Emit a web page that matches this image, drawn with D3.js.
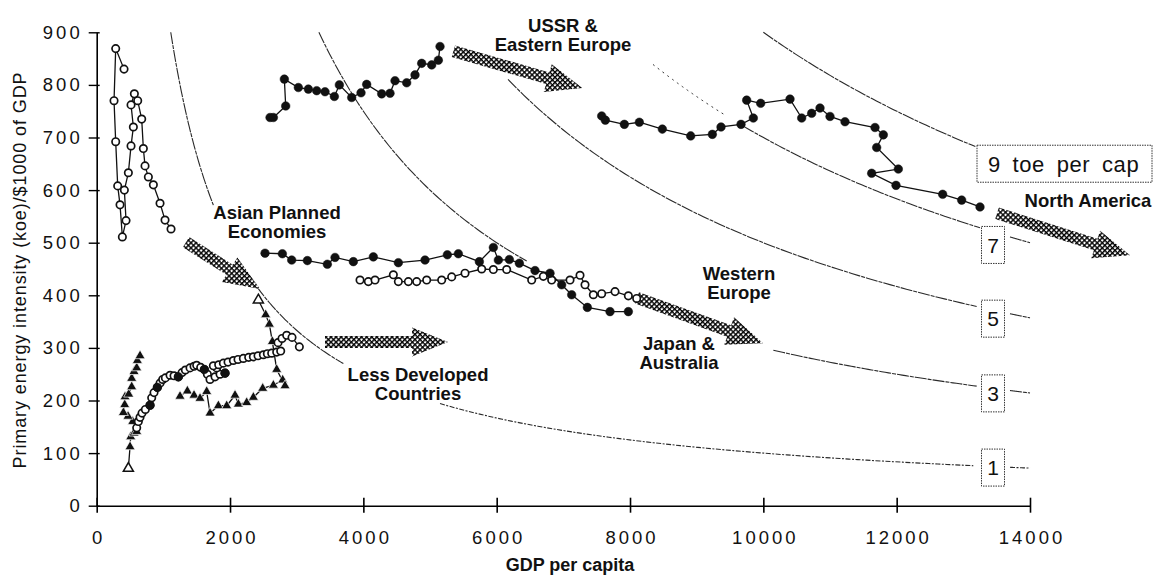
<!DOCTYPE html>
<html>
<head>
<meta charset="utf-8">
<script src="https://cdn.jsdelivr.net/npm/d3@7"></script>
<style>
  body { margin: 0; background: #fff; }
  svg text { font-family: "Liberation Sans", Arial, Helvetica, sans-serif; fill: #111; }
</style>
</head>
<body>
<svg id="svg" width="1154" height="576"></svg>
<script>
// tick values
const xTicks = [0, 2000, 4000, 6000, 8000, 10000, 12000, 14000];
const yTicks = [0, 100, 200, 300, 400, 500, 600, 700, 800, 900];

// iso lines of energy per capita (toe per cap) and the GDP ranges where they are drawn
const isoLevels = [1, 3, 5, 7, 9];
const isoLabels = ["1", "3", "5", "7", "9 toe per cap"];
const isoSegments = [
  [[1111, 1750], [2400, 3700], [5150, 13150], [13700, 14000]],
  [[3333, 6450], [10150, 13200], [13700, 14000]],
  [[6170, 13200], [13700, 14000]],
  [[9700, 13250], [13700, 14000]],
  [[10000, 13180]]
];
const isoFaint = [[7, 8345, 9450]];

// series: [GDP per capita, koe per $1000]
const asianPlanned = [[410,830],[285,869],[260,770],[285,692],[315,608],[350,572],[385,511],[440,542],[415,600],[475,633],[515,684],[550,720],[515,762],[565,783],[615,770],[675,735],[700,679],[725,646],[775,625],[850,610],[950,575],[1025,543],[1115,526]];
const ldcCircles = [[600,148],[625,160],[650,168],[680,176],[730,183],[800,191],[825,205],[860,215],[910,225],[950,233],[990,240],[1030,243],[1100,248],[1160,247],[1225,245],[1280,253],[1330,258],[1400,262],[1460,265],[1500,267],[1560,263],[1615,259],[1660,250],[1700,240],[1775,245],[1850,250],[1925,252],[1800,262],[1750,266],[1830,268],[1900,271],[1970,273],[2050,276],[2120,278],[2200,280],[2280,282],[2350,283],[2420,285],[2500,287],[2560,289],[2625,290],[2700,292],[2760,294],[2720,310],[2780,318],[2850,324],[2930,320],[3040,302]];
const ldcSolid = [[800,191],[910,225],[1225,245],[1615,259],[1925,252]];
const ldcTrianglesA = [[475,71],[500,112],[510,131],[560,138],[600,141],[540,160],[470,170],[400,177],[420,192],[425,207],[480,212],[525,226],[525,242],[560,255],[600,262],[610,276],[650,285]];
const ldcTrianglesB = [[1250,208],[1360,218],[1460,210],[1550,204],[1650,217],[1700,176],[1825,190],[1950,190],[2075,210],[2125,193],[2250,196],[2350,206],[2490,223],[2650,229],[2790,239],[2825,228],[2700,259],[2635,312],[2590,345],[2535,363],[2425,391]];
const westernEurope = [[2525,480],[2785,479],[2925,467],[3160,466],[3460,459],[3575,472],[3850,464],[4150,473],[4525,462],[4925,467],[5260,477],[5425,479],[5740,464],[5950,491],[6025,467],[6190,468],[6340,461],[6575,447],[6800,442],[6975,420],[7125,401],[7360,377],[7700,369],[7975,369]];
const japanAustralia = [[3950,429],[4075,426],[4175,429],[4450,439],[4525,426],[4675,426],[4800,426],[4950,429],[5175,429],[5325,435],[5525,442],[5775,450],[5950,449],[6150,449],[6525,429],[6700,436],[6825,429],[7100,429],[7250,438],[7325,420],[7450,401],[7575,403],[7775,407],[7975,399],[8100,394]];
const ussr = [[2600,738],[2650,738],[2835,760],[2815,811],[3025,795],[3175,792],[3300,789],[3425,787],[3565,778],[3640,800],[3825,776],[3965,785],[4050,801],[4275,783],[4400,784],[4475,808],[4650,804],[4775,819],[4875,841],[5025,838],[5125,847],[5150,873]];
const northAmerica = [[7575,741],[7630,733],[7915,725],[8140,729],[8485,716],[8910,703],[9235,706],[9365,720],[9665,725],[9850,737],[9750,771],[9960,765],[10400,773],[10575,737],[10725,746],[10850,756],[11000,740],[11225,730],[11675,719],[11800,705],[11700,681],[12025,640],[11625,632],[11990,609],[12690,592],[12975,581],[13250,568]];

// region names
const regionNames = [["Asian Planned", "Economies"], ["USSR &", "Eastern Europe"], ["North America"], ["Western", "Europe"], ["Japan &", "Australia"], ["Less Developed", "Countries"]];

const svg = d3.select("#svg");
const x = d3.scaleLinear().domain([0, 14000]).range([96.7, 1030]);
const y = d3.scaleLinear().domain([0, 900]).range([505.7, 32.3]);

// hatch pattern for the trend arrows
const defs = svg.append("defs");
defs.append("pattern")
  .attr("id", "hatch")
  .attr("patternUnits", "userSpaceOnUse")
  .attr("width", 3.6)
  .attr("height", 3.6)
  .attr("patternTransform", "rotate(45)")
  .append("path")
  .attr("d", "M0,0.7H3.6M0.7,0V3.6")
  .attr("stroke", "#000")
  .attr("stroke-width", 1.5);

// axes
const xAxis = svg.append("g")
  .attr("transform", `translate(0,${y(0)})`)
  .call(d3.axisBottom(x).tickValues(xTicks).tickSize(7).tickSizeOuter(0).tickPadding(18).tickFormat(d3.format("d")));
xAxis.selectAll(".tick line").attr("y1", -8).attr("stroke-width", 1.6);
const yAxis = svg.append("g")
  .attr("transform", `translate(${x(0)},0)`)
  .call(d3.axisLeft(y).tickValues(yTicks).tickSize(8).tickSizeOuter(0).tickPadding(6));
yAxis.selectAll(".tick line").attr("x1", 3).attr("stroke-width", 1.4);
[xAxis, yAxis].forEach((g) => {
  g.attr("font-family", null).attr("font-size", null);
  g.select(".domain").attr("stroke-width", 1.6);
  g.selectAll(".tick text").style("font-size", "18.5px").style("letter-spacing", "3px");
});
xAxis.selectAll(".tick text").attr("dx", 1.5);

svg.append("text")
  .attr("x", 570).attr("y", 571)
  .attr("text-anchor", "middle")
  .style("font-size", "18px").style("font-weight", "bold")
  .text("GDP per capita");
svg.append("text")
  .attr("transform", "translate(26,270) rotate(-90)")
  .attr("text-anchor", "middle")
  .style("font-size", "18px").style("letter-spacing", "0.9px")
  .text("Primary energy intensity (koe)/$1000 of GDP");

// iso lines
const isoLine = d3.line().x((d) => x(d[0])).y((d) => y(d[1]));
const isoPoints = (level, a, b) =>
  d3.range(0, 61).map((i) => {
    const g = a + ((b - a) * i) / 60;
    return [g, (level * 1e6) / g];
  });
isoLevels.forEach((level, i) => {
  isoSegments[i].forEach((seg) => {
    svg.append("path")
      .attr("d", isoLine(isoPoints(level, seg[0], seg[1])))
      .attr("fill", "none")
      .attr("stroke", "#2a2a2a")
      .attr("stroke-width", 1.1)
      .attr("stroke-dasharray", i == 0 && seg[0] > 5000 ? "5,1.5,2,1.5" : "12,1,4,1");
  });
});
isoFaint.forEach((f) => {
  svg.append("path")
    .attr("d", isoLine(isoPoints(f[0], f[1], f[2])))
    .attr("fill", "none")
    .attr("stroke", "#333")
    .attr("stroke-width", 1)
    .attr("stroke-dasharray", "2,4");
});

// labels in dotted boxes at the right end of the iso lines
const boxDy = [1, 5, 8.5, 13, 10];
isoLevels.forEach((level, i) => {
  const cy = y((level * 1e6) / 13450) + boxDy[i];
  const wide = isoLabels[i].length > 2;
  const bx = wide ? 977 : 981.5;
  const bw = wide ? 175 : 23;
  svg.append("rect")
    .attr("x", bx).attr("y", cy - 18.5)
    .attr("width", bw).attr("height", 37)
    .attr("fill", "#fff")
    .attr("stroke", "#333")
    .attr("stroke-width", 1)
    .attr("stroke-dasharray", "1.5,1");
  svg.append("text")
    .attr("x", wide ? 988 : bx + bw / 2)
    .attr("y", cy)
    .attr("dy", "0.36em")
    .attr("text-anchor", wide ? "start" : "middle")
    .style("font-size", wide ? "22px" : "21px")
    .style("word-spacing", wide ? "5px" : null)
    .style("letter-spacing", wide ? "0.6px" : null)
    .text(isoLabels[i]);
});

// hatched trend arrows, from and to in data units
const arrows = [
  [[1340, 501], [2450, 412]],
  [[3425, 311], [5270, 311]],
  [[5350, 864], [7285, 794]],
  [[8105, 395], [9995, 309]],
  [[13505, 556], [15500, 476]]
];
function arrowPoints(p, q, bw, hl, hw) {
  const x1 = x(p[0]), y1 = y(p[1]), x2 = x(q[0]), y2 = y(q[1]);
  const len = Math.hypot(x2 - x1, y2 - y1);
  const ux = (x2 - x1) / len, uy = (y2 - y1) / len;
  const nx = -uy, ny = ux;
  const bx = x2 - ux * hl, by = y2 - uy * hl;
  return [
    [x1 + nx * bw, y1 + ny * bw], [bx + nx * bw, by + ny * bw], [bx + nx * hw, by + ny * hw],
    [x2, y2],
    [bx - nx * hw, by - ny * hw], [bx - nx * bw, by - ny * bw], [x1 - nx * bw, y1 - ny * bw]
  ];
}
arrows.forEach((a) => {
  const pts = arrowPoints(a[0], a[1], 6, 36, 14.5).join(" ");
  svg.append("polygon").attr("points", pts).attr("fill", "#fff");
  svg.append("polygon").attr("points", pts).attr("fill", "url(#hatch)");
});

// series
const pathLine = d3.line().x((d) => x(d[0])).y((d) => y(d[1]));
function drawPath(data) {
  svg.append("path")
    .attr("d", pathLine(data))
    .attr("fill", "none")
    .attr("stroke", "#111")
    .attr("stroke-width", 1.3);
}
function drawDots(data, filled) {
  svg.append("g")
    .selectAll("circle")
    .data(data)
    .join("circle")
    .attr("cx", (d) => x(d[0]))
    .attr("cy", (d) => y(d[1]))
    .attr("r", filled ? 4.3 : 3.7)
    .attr("fill", filled ? "#111" : "#fff")
    .attr("stroke", "#111")
    .attr("stroke-width", filled ? 0.5 : 1.7);
}
// open = index of the one hollow triangle
function drawTriangles(data, open) {
  svg.append("g")
    .selectAll("path")
    .data(data)
    .join("path")
    .attr("transform", (d) => `translate(${x(d[0])},${y(d[1])})`)
    .attr("d", d3.symbol(d3.symbolTriangle, 44))
    .attr("fill", (d, i) => (i == open ? "#fff" : "#111"))
    .attr("stroke", (d, i) => (i == open ? "#111" : "#fff"))
    .attr("stroke-width", (d, i) => (i == open ? 1.5 : 0.7));
}

[asianPlanned, ldcCircles, ldcTrianglesA, ldcTrianglesB, westernEurope, japanAustralia, ussr, northAmerica].forEach(drawPath);
drawTriangles(ldcTrianglesA, 0);
drawTriangles(ldcTrianglesB, ldcTrianglesB.length - 1);
drawDots(asianPlanned, false);
drawDots(ldcCircles, false);
drawDots(ldcSolid, true);
drawDots(japanAustralia, false);
drawDots(westernEurope, true);
drawDots(ussr, true);
drawDots(northAmerica, true);

// region names, anchored in data units
const regionAt = [[2705, 558], [6995, 914], [14870, 581], [9635, 442], [8735, 309], [4820, 249]];
regionNames.forEach((lines, i) => {
  const t = svg.append("text")
    .attr("x", x(regionAt[i][0]))
    .attr("y", y(regionAt[i][1]))
    .attr("text-anchor", "middle")
    .style("font-size", "18.5px")
    .style("font-weight", "bold");
  lines.forEach((s, j) => {
    t.append("tspan")
      .attr("x", x(regionAt[i][0]))
      .attr("dy", j == 0 ? "0.36em" : "19")
      .text(s);
  });
});
</script>
</body>
</html>
